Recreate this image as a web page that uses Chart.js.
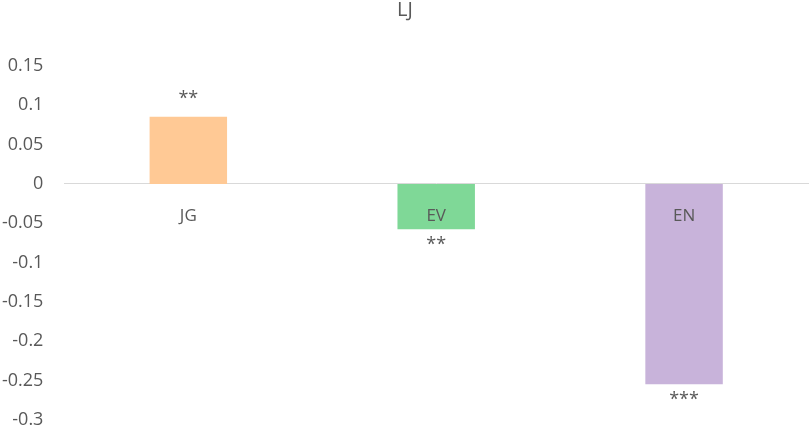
<!DOCTYPE html>
<html>
<head>
<meta charset="utf-8">
<title>LJ</title>
<script src="https://cdn.jsdelivr.net/npm/chart.js@4"></script>
<style>
  body { margin: 0; background: #fff; }
  #chart { display: block; }
</style>
</head>
<body>
<canvas id="chart" width="809" height="428"></canvas>
<script>
// chart data
const categories = ['JG', 'EV', 'EN'];
const values = [0.0856, -0.0576, -0.2546];
const stars = ['**', '**', '***'];
const barColors = ['#FFC995', '#7FD897', '#C8B3DA'];
const yTicks = [0.15, 0.1, 0.05, 0, -0.05, -0.1, -0.15, -0.2, -0.25, -0.3];

const textColor = '#595959';
const fontFamily = '"Open Sans", "Noto Sans", sans-serif';

// category names under the zero line (drawn over the bars) and the significance stars
const barText = {
  id: 'barText',
  afterDatasetsDraw(chart) {
    const ctx = chart.ctx;
    const xScale = chart.scales.x;
    const zeroY = chart.scales.y.getPixelForValue(0);
    const meta = chart.getDatasetMeta(0);
    ctx.save();
    ctx.fillStyle = textColor;
    ctx.textAlign = 'center';

    ctx.font = '17px ' + fontFamily;
    ctx.textBaseline = 'middle';
    categories.forEach((name, i) => {
      ctx.fillText(name, xScale.getPixelForValue(i), zeroY + 32);
    });

    ctx.font = '18px ' + fontFamily;
    ctx.textBaseline = 'alphabetic';
    meta.data.forEach((bar, i) => {
      const y = values[i] >= 0 ? bar.y - 13 : bar.y + 21;
      ctx.fillText(stars[i], bar.x, y);
    });
    ctx.restore();
  }
};

new Chart(document.getElementById('chart').getContext('2d'), {
  type: 'bar',
  data: {
    labels: categories,
    datasets: [{
      data: values,
      backgroundColor: barColors,
      borderWidth: 0,
      barPercentage: 0.3125,
      categoryPercentage: 1
    }]
  },
  options: {
    responsive: false,
    animation: false,
    layout: { padding: { left: 2, right: 1, top: 0, bottom: 0 } },
    plugins: {
      legend: { display: false },
      tooltip: { enabled: false },
      title: {
        display: true,
        text: 'LJ',
        color: textColor,
        font: { family: fontFamily, size: 20, weight: 'normal', lineHeight: 1 },
        padding: { top: 0, bottom: 46 }
      }
    },
    scales: {
      x: {
        position: { y: 0 },
        grid: { display: false, drawTicks: false },
        border: { display: true, color: '#d9d9d9', width: 1 },
        ticks: { display: false },
        // axis sits on the zero line, so it should not take room at the bottom
        afterFit(scale) {
          scale.height = 0;
          scale.paddingLeft = 0;
          scale.paddingRight = 0;
          scale.paddingTop = 0;
          scale.paddingBottom = 0;
        }
      },
      y: {
        min: -0.3,
        max: 0.15,
        grid: { display: false, drawTicks: false },
        border: { display: false },
        afterBuildTicks(scale) {
          scale.ticks = yTicks.map(v => ({ value: v }));
        },
        ticks: {
          color: textColor,
          padding: 21,
          font: { family: fontFamily, size: 18 },
          callback: v => String(Math.round(v * 100) / 100)
        },
        // chart.js puts the tick padding on both sides of the labels; drop the outer one
        afterFit(scale) {
          scale.width -= 21;
          scale.paddingBottom = 8;
        }
      }
    }
  },
  plugins: [barText]
});
</script>
</body>
</html>
